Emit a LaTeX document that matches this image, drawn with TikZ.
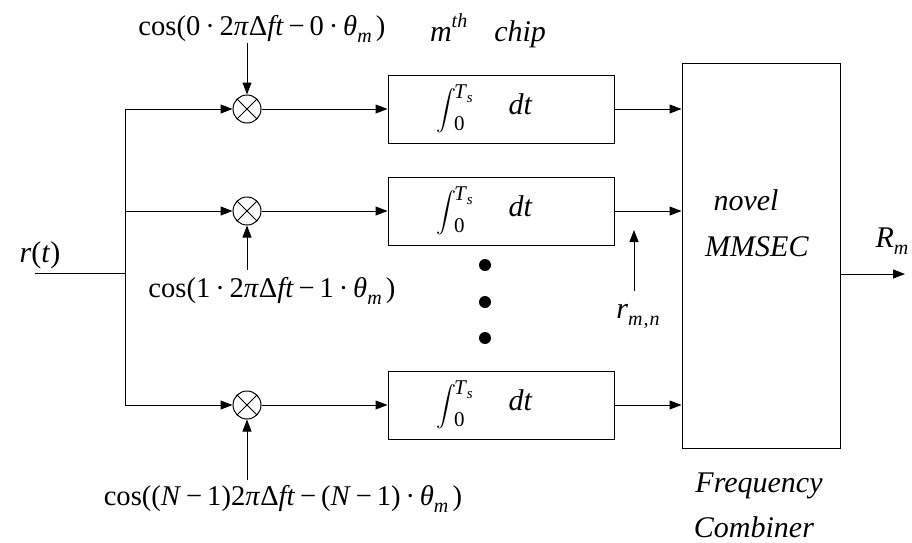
\documentclass[tikz,border=0pt]{standalone}
\usepackage{fontspec}
\setmainfont{Liberation Serif}[ItalicFont={Liberation Serif Italic},BoldFont={Liberation Serif Bold}]
\usetikzlibrary{arrows.meta,calc}
\newcommand{\sbx}[1]{\raisebox{-3.5pt}{\fontsize{10}{12}\selectfont\textit{#1}}}
\newcommand{\spx}[1]{\raisebox{7pt}{\fontsize{10}{12}\selectfont\textit{#1}}}
\newcommand{\op}[1]{\hspace{0.17em}#1\hspace{0.17em}}
\newcommand{\integ}{\makebox[113pt][l]{\hspace{24pt}\raisebox{-1pt}{\fontsize{10.5}{12}\selectfont$\displaystyle\int$}\hspace{-1pt}\rlap{\raisebox{8pt}{\fontsize{10.5}{12}\selectfont\textit{T}\raisebox{-2pt}{\fontsize{7.5}{9}\selectfont\textit{s}}}}\raisebox{-8pt}{\fontsize{10.5}{12}\selectfont 0}\hspace{22pt}\textit{dt}}}
\begin{document}
\begin{tikzpicture}[x=0.5pt,y=-0.5pt,line width=0.5pt,
  every node/.style={font=\fontsize{15}{18}\selectfont},
  cosfont/.style={font=\fontsize{14.3}{17}\selectfont},
  arr/.style={-{Triangle[length=6pt,width=4.5pt]}},
  mixer/.style={circle,draw,minimum size=14pt,inner sep=0pt,path picture={
    \draw ($(path picture bounding box.center)+(45:7pt)$) -- ($(path picture bounding box.center)+(225:7pt)$);
    \draw ($(path picture bounding box.center)+(135:7pt)$) -- ($(path picture bounding box.center)+(-45:7pt)$);}},
  intbox/.style={draw,minimum width=113pt,minimum height=34pt,inner sep=0pt},
  lbl/.style={inner sep=0pt,anchor=base},
  bigdot/.style={circle,fill,minimum size=6pt,inner sep=0pt}]
\useasboundingbox (0,0) rectangle (912,542);
% input and trunk
\coordinate (in) at (35,273);
\coordinate (j) at (125,273);
\coordinate (t1) at (125,109);
\coordinate (t2) at (125,211);
\coordinate (t3) at (125,405);
\node[lbl] (rt) at (40,262) {\textit{r}(\textit{t})};
% mixers
\node[mixer] (m1) at (247,109) {};
\node[mixer] (m2) at (247,211) {};
\node[mixer] (m3) at (247,405) {};
% integrator boxes
\node[intbox] (b1) at (501,109) {\integ};
\node[intbox] (b2) at (501,211) {\integ};
\node[intbox] (b3) at (501,405) {\integ};
% dots
\node[bigdot] (d1) at (485,265) {};
\node[bigdot] (d2) at (485,302) {};
\node[bigdot] (d3) at (485,338) {};
% combiner
\node[draw,minimum width=79pt,minimum height=192.5pt,inner sep=0pt] (mm) at (761,255.5) {};
\node[lbl] (nov) at (746,210) {\textit{novel}};
\node[lbl] (mms) at (757,256) {\textit{MMSEC}};
\node[lbl] (fre) at (759,492) {\textit{Frequency}};
\node[lbl] (com) at (754,537) {\textit{Combiner}};
\node[lbl] (chip) at (488,41) {\textit{m}\spx{th}\hspace{0.9em}\textit{chip}};
% labels
\node[lbl,cosfont] (c0) at (262,35) {cos(0\op{·}2\textit{π}Δ\textit{ft}\op{−}0\op{·}\textit{θ}\sbx{m}\hspace{0.15em})};
\node[lbl,cosfont] (c1) at (272,297) {cos(1\op{·}2\textit{π}Δ\textit{ft}\op{−}1\op{·}\textit{θ}\sbx{m}\hspace{0.15em})};
\node[lbl,cosfont] (cN) at (283,505) {cos((\textit{N}\op{−}1)2\textit{π}Δ\textit{ft}\op{−}(\textit{N}\op{−}1)\op{·}\textit{θ}\sbx{m}\hspace{0.15em})};
\node[lbl] (rmn) at (638,318) {\textit{r}\sbx{m\hspace{0.05em},\hspace{0.05em}n}};
\node[lbl] (Rm) at (892,247) {\textit{R}\sbx{m}};
\coordinate (tip) at (634,230);
\coordinate (out) at (905,274);
% connectors
\draw (in) -- (j);
\draw (t1) -- (t3);
\draw[arr] (t1) -- (m1);
\draw[arr] (t2) -- (m2);
\draw[arr] (t3) -- (m3);
\draw[arr] (m1) -- (b1);
\draw[arr] (m2) -- (b2);
\draw[arr] (m3) -- (b3);
\draw[arr] (b1) -- (b1 -| mm.west);
\draw[arr] (b2) -- (b2 -| mm.west);
\draw[arr] (b3) -- (b3 -| mm.west);
\draw[arr] (c0.south -| m1) -- (m1);
\draw[arr] ([yshift=3pt]c1.north -| m2) -- (m2);
\draw[arr] ([yshift=2pt]cN.north -| m3) -- (m3);
\draw[arr] ([yshift=6pt]rmn.north -| tip) -- (tip);
\draw[arr] (out -| mm.east) -- (out);
\end{tikzpicture}
\end{document}
